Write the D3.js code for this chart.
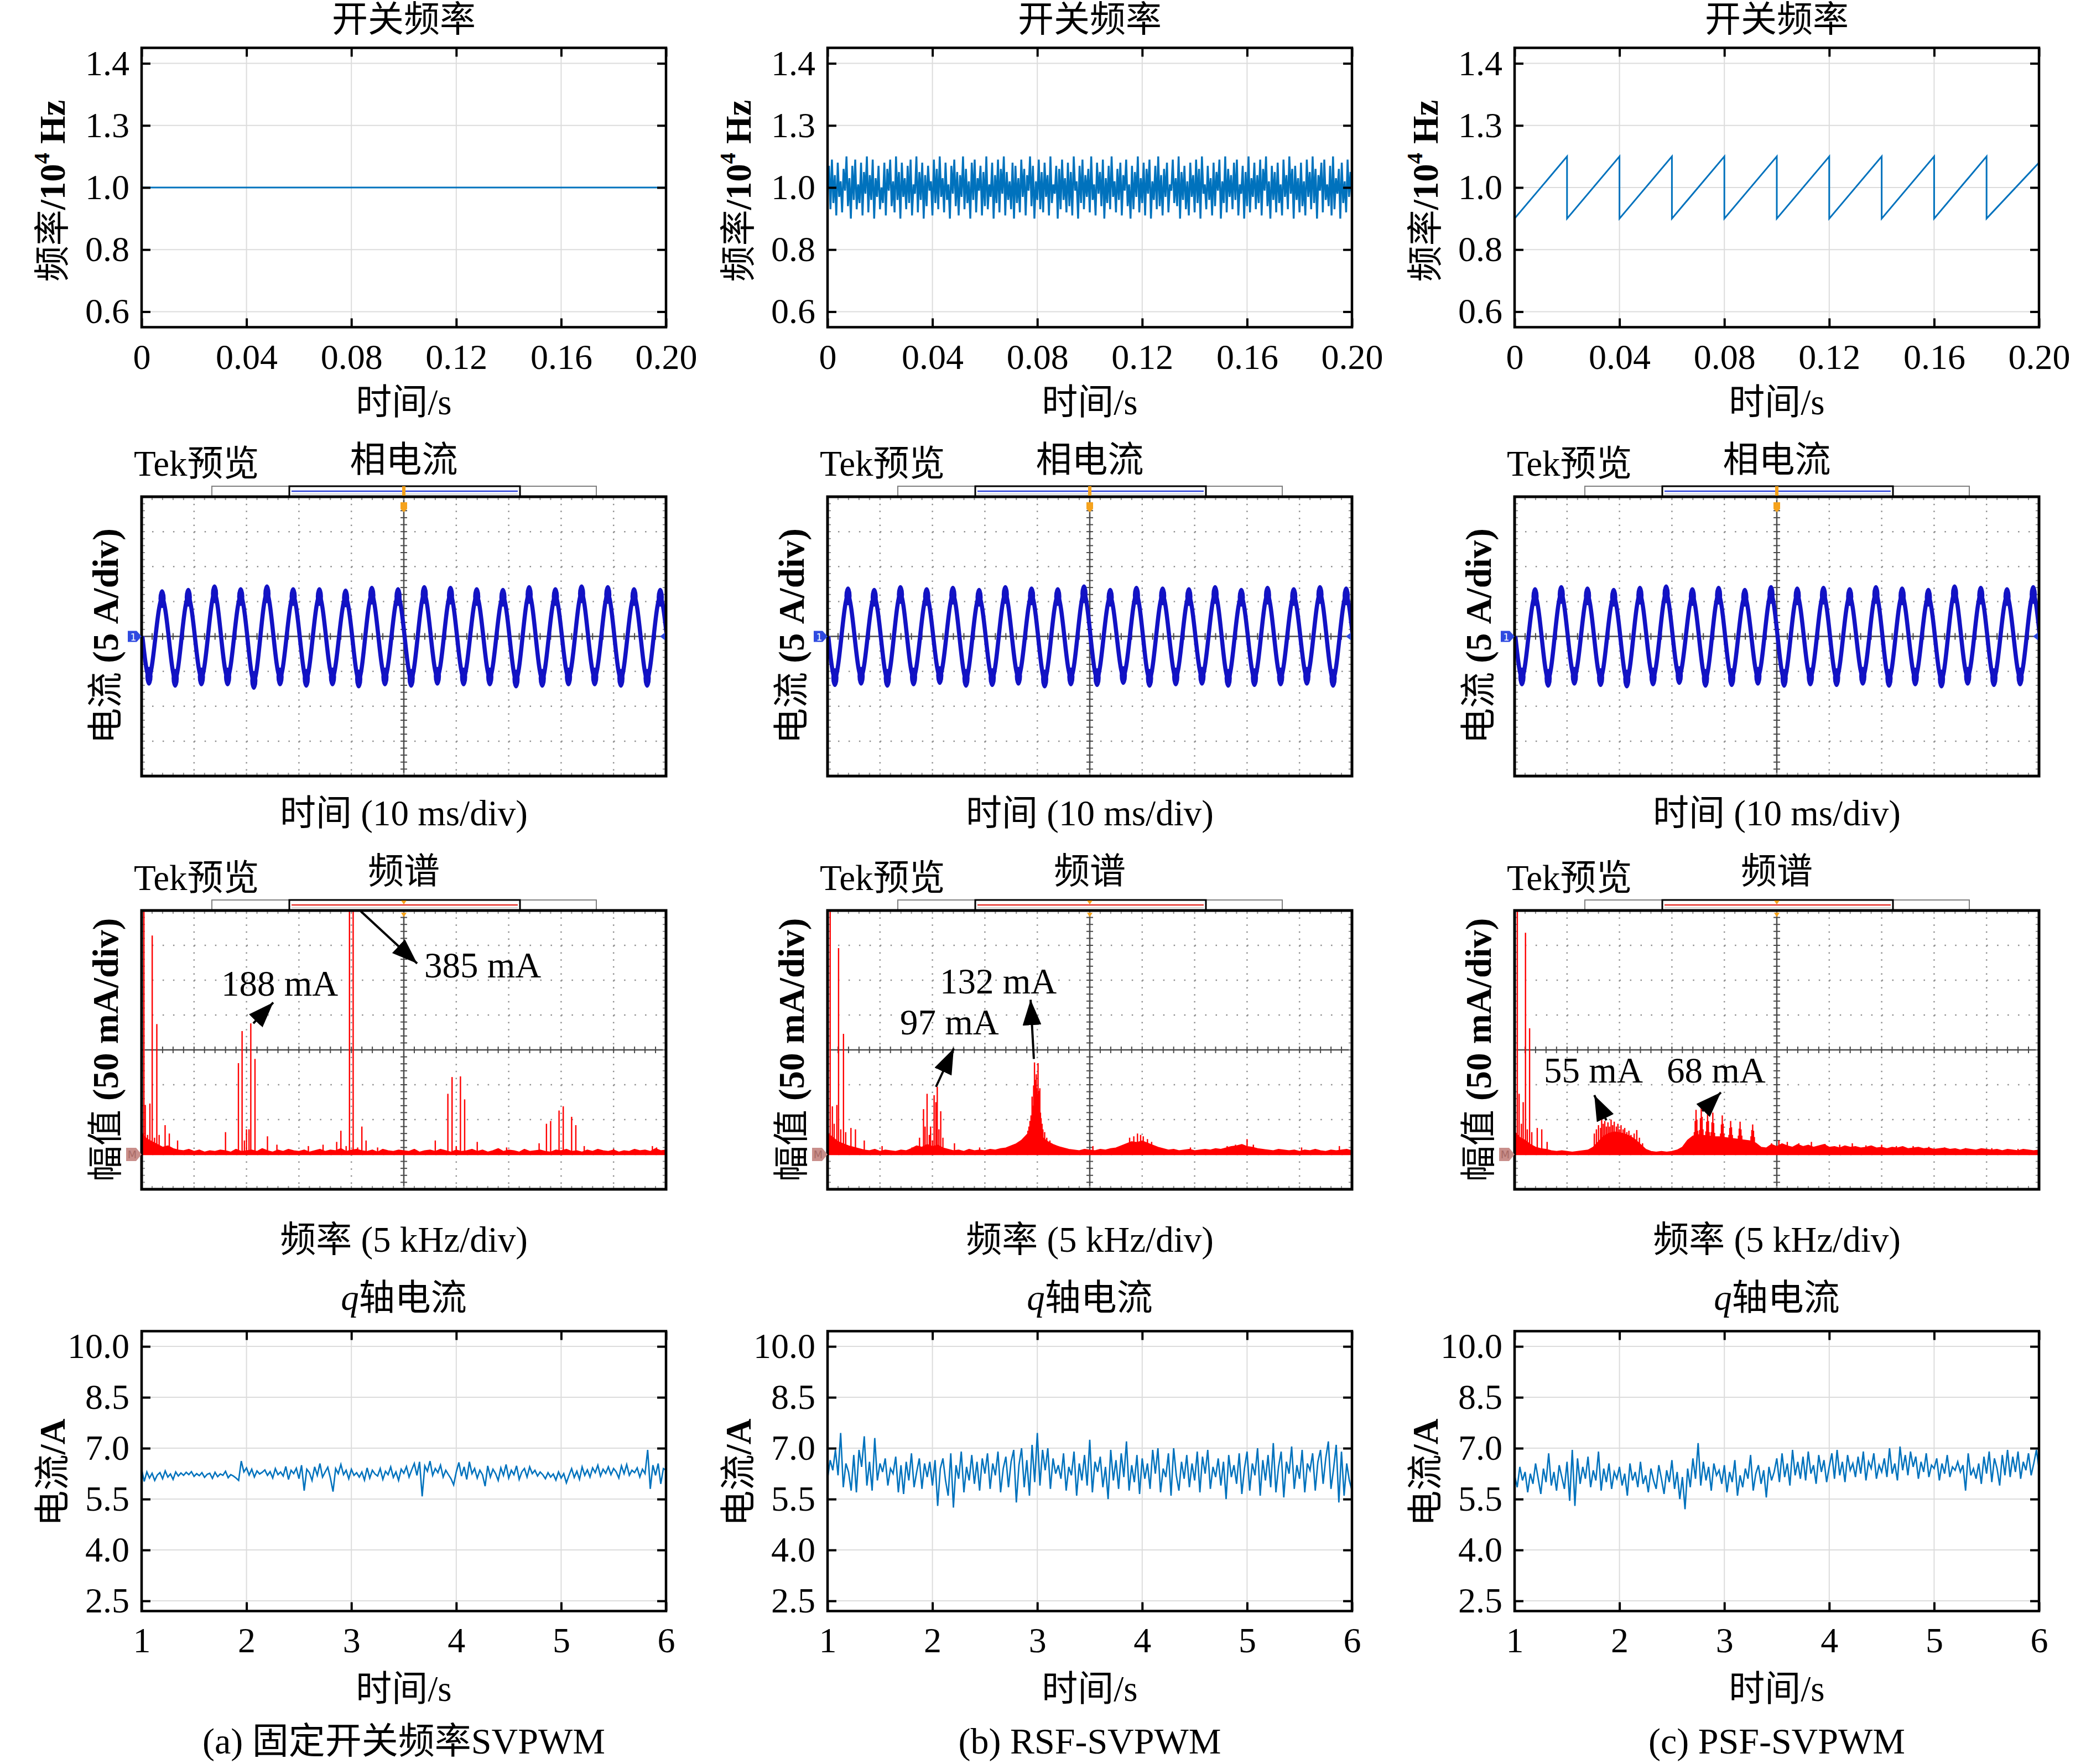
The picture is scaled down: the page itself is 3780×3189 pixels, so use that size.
<!DOCTYPE html>
<html>
<head>
<meta charset="utf-8">
<script src="https://cdn.jsdelivr.net/npm/d3@7"></script>
<style>body{margin:0;background:#fff}</style>
</head>
<body>
<svg id="fig" width="3780" height="3189"></svg>
<script>
// ---------------- data ----------------
var captions = ['(a) 固定开关频率SVPWM', '(b) RSF-SVPWM', '(c) PSF-SVPWM'];

// row 1: switching frequency (10^4 Hz) over 0..0.2 s
var freqTicks = [0.6, 0.8, 1.0, 1.2, 1.4];
var freqTickLabels = ['0.6', '0.8', '1.0', '1.3', '1.4'];
var freqTimeTicks = [0, 0.04, 0.08, 0.12, 0.16, 0.2];
var freqTimeLabels = ['0', '0.04', '0.08', '0.12', '0.16', '0.20'];
var fixedFreqT = [0, 0.2];
var fixedFreq = [1.0, 1.0];
var rsfFreq = [
  0.98, 1.07, 0.93, 1.09, 0.95, 1.04, 0.91, 1.08, 0.97, 1.02,
  0.92, 1.06, 0.99, 1.10, 0.94, 1.03, 0.90, 1.07, 0.96, 1.09,
  0.93, 1.01, 0.95, 1.08, 0.91, 1.05, 0.98, 1.10, 0.92, 1.04,
  0.96, 1.09, 0.90, 1.03, 0.97, 1.07, 0.93, 1.00, 0.95, 1.08,
  0.91, 1.06, 0.99, 1.09, 0.94, 1.02, 0.92, 1.10, 0.96, 1.05,
  0.90, 1.08, 0.97, 1.03, 0.93, 1.07, 0.95, 1.09, 0.91, 1.01,
  0.98, 1.10, 0.92, 1.05, 0.96, 1.08, 0.90, 1.04, 0.94, 1.07,
  0.99, 1.02, 0.91, 1.09, 0.95, 1.06, 0.93, 1.10, 0.97, 1.03,
  0.92, 1.08, 0.96, 1.01, 0.90, 1.07, 0.98, 1.09, 0.94, 1.05,
  0.91, 1.04, 0.97, 1.10, 0.93, 1.06, 0.95, 1.02, 0.90, 1.08,
  0.96, 1.09, 0.92, 1.03, 0.99, 1.07, 0.91, 1.05, 0.94, 1.10,
  0.93, 1.01, 0.97, 1.08, 0.90, 1.04, 0.95, 1.09, 0.92, 1.06,
  0.98, 1.10, 0.91, 1.05, 0.96, 1.02, 0.93, 1.08, 0.90, 1.07,
  0.95, 1.03, 0.92, 1.09, 0.97, 1.06, 0.91, 1.04, 0.99, 1.10,
  0.94, 1.07, 0.90, 1.02, 0.96, 1.09, 0.93, 1.05, 0.92, 1.08,
  0.97, 1.04, 0.91, 1.10, 0.95, 1.01, 0.98, 1.07, 0.90, 1.06,
  0.93, 1.09, 0.96, 1.03, 0.92, 1.08, 0.94, 1.05, 0.91, 1.10,
  0.99, 1.02, 0.90, 1.07, 0.95, 1.09, 0.93, 1.04, 0.97, 1.06,
  0.92, 1.10, 0.96, 1.01, 0.91, 1.08, 0.98, 1.05, 0.94, 1.09,
  0.90, 1.03, 0.95, 1.07, 0.93, 1.10, 0.97, 1.02, 0.92, 1.06,
  0.96, 1.08, 0.91, 1.04, 0.99, 1.09, 0.94, 1.01, 0.90, 1.07,
  0.93, 1.05, 0.97, 1.10, 0.92, 1.03, 0.95, 1.08, 0.91, 1.06,
  0.98, 1.09, 0.90, 1.02, 0.96, 1.07, 0.93, 1.10, 0.94, 1.04,
  0.91, 1.06, 0.97, 1.08, 0.92, 1.01, 0.99, 1.09, 0.95, 1.03,
  0.94, 1.10, 0.90, 1.05, 0.96, 1.07, 0.93, 1.02, 0.91, 1.08,
  0.97, 1.04, 0.92, 1.09, 0.95, 1.06, 0.90, 1.10, 0.98, 1.01,
  0.93, 1.07, 0.96, 1.03, 0.91, 1.08, 0.94, 1.05, 0.99, 1.09,
  0.90, 1.02, 0.95, 1.10, 0.92, 1.06, 0.97, 1.04, 0.93, 1.08,
  0.96, 1.09, 0.91, 1.01, 0.98, 1.07, 0.90, 1.05, 0.94, 1.10,
  0.92, 1.03, 0.97, 1.08, 0.93, 1.04, 0.95, 1.09, 0.91, 1.06,
  0.99, 1.10, 0.94, 1.02, 0.90, 1.07, 0.96, 1.05, 0.92, 1.08,
  0.95, 1.01, 0.91, 1.09, 0.97, 1.04, 0.93, 1.10, 0.98, 1.06,
  0.90, 1.07, 0.96, 1.03, 0.92, 1.08, 0.94, 1.02, 0.91, 1.09,
  0.97, 1.05, 0.93, 1.10, 0.95, 1.06, 0.90, 1.04, 0.99, 1.08,
  0.92, 1.09, 0.96, 1.01, 0.94, 1.07, 0.91, 1.10, 0.93, 1.03,
  0.98, 1.06, 0.90, 1.08, 0.95, 1.02, 0.92, 1.09, 0.97, 1.05,
  0.96
];
var psfFreqT = [0, 0.02, 0.02, 0.04, 0.04, 0.06, 0.06, 0.08, 0.08, 0.10,
  0.10, 0.12, 0.12, 0.14, 0.14, 0.16, 0.16, 0.18, 0.18, 0.20];
var psfFreq = [0.90, 1.10, 0.90, 1.10, 0.90, 1.10, 0.90, 1.10, 0.90, 1.10,
  0.90, 1.10, 0.90, 1.10, 0.90, 1.10, 0.90, 1.10, 0.90, 1.08];

// row 2: phase current, 5 A/div, 10 ms/div; per-cycle peaks and troughs (A)
var phasePeriodMs = 5;
var phaseStartMs = 0.15;
var phasePeaks = [
  [5.4, 5.6, 6.1, 5.7, 6.1, 5.7, 5.7, 5.5, 5.9, 5.7, 6.0, 5.9, 5.7, 5.6, 6.0, 5.7, 6.1, 6.0, 5.7, 5.6],
  [5.8, 5.6, 6.0, 5.7, 5.9, 5.6, 6.0, 5.8, 5.7, 6.1, 5.6, 5.9, 5.8, 5.7, 6.0, 5.6, 5.9, 5.7, 6.0, 5.8],
  [5.7, 6.0, 5.8, 5.6, 5.9, 6.1, 5.7, 5.9, 5.6, 6.0, 5.8, 5.9, 5.7, 6.0, 5.8, 5.6, 6.1, 5.9, 5.7, 6.0]
];
var phaseTroughs = [
  [-5.7, -6.0, -5.8, -5.8, -6.3, -5.8, -6.0, -5.8, -6.1, -5.8, -6.0, -5.7, -5.8, -5.8, -6.1, -6.0, -5.8, -5.8, -6.0, -6.0],
  [-5.9, -5.7, -6.0, -5.8, -5.6, -6.0, -5.9, -5.7, -6.1, -5.8, -5.9, -5.6, -6.0, -5.8, -5.7, -6.0, -5.9, -5.8, -5.7, -6.0],
  [-5.8, -6.0, -5.7, -5.9, -6.1, -5.8, -5.6, -6.0, -5.9, -5.7, -6.0, -5.8, -5.9, -5.7, -6.0, -5.8, -6.1, -5.7, -5.9, -5.8]
];

// row 3: spectrum, 50 mA/div, 5 kHz/div (0..50 kHz); noise floor every 0.5 kHz (mA)
var floorA = [30, 22, 18, 14, 10, 12, 8, 6, 5, 7, 4, 6, 3, 5, 4, 6, 5, 3, 7, 4,
  5, 6, 4, 8, 5, 3, 6, 4, 7, 5, 4, 6, 3, 5, 7, 4, 6, 5, 8, 4,
  6, 7, 5, 4, 6, 3, 7, 5, 4, 6, 5, 4, 7, 3, 5, 6, 4, 7, 5, 3,
  6, 4, 5, 7, 4, 6, 3, 5, 8, 4, 6, 5, 3, 7, 4, 5, 6, 4, 3, 6,
  5, 7, 4, 5, 3, 6, 4, 7, 5, 4, 6, 3, 5, 4, 7, 5, 6, 4, 8, 5, 6];
var floorB = [30, 24, 18, 15, 12, 10, 8, 6, 5, 7, 4, 6, 5, 4, 6, 5,
  8, 12, 10, 14, 11, 13, 9, 7, 5, 6, 4, 7, 5, 6, 5, 7, 6, 8, 9,
  12, 15, 20, 28, 34, 30, 24, 18, 14, 11, 9, 7, 6, 5, 7, 6, 5, 7, 6, 8, 9,
  12, 15, 18, 17, 19, 16, 13, 10, 8, 6, 7, 5, 6, 7, 5, 6, 7, 6, 8, 7,
  9, 11, 12, 14, 11, 10, 8, 7, 6, 5, 7, 6, 5, 6, 4, 6, 5, 7, 5, 4, 6, 5, 6, 7, 5];
var floorC = [32, 24, 20, 14, 10, 8, 7, 5, 4, 5, 4, 3, 4, 5, 6,
  10, 18, 26, 30, 32, 31, 29, 26, 21, 14, 7, 4, 3, 4, 3, 4, 6, 10,
  20, 26, 28, 27, 26, 25, 25, 24, 23, 22, 21, 20, 19, 16, 10,
  9, 14, 11, 15, 12, 10, 14, 11, 13, 10, 12, 14, 10,
  11, 9, 12, 10, 11, 9, 10, 12, 9, 10, 8, 10, 9, 11, 8, 9, 10, 8, 9, 7,
  8, 9, 7, 8, 6, 8, 7, 6, 8, 7, 6, 7, 5, 7, 6, 5, 7, 6, 5, 6];
// spectral lines [kHz, mA]
var spikesA = [[0.22, 450], [0.35, 71], [0.57, 28], [0.79, 73], [1.01, 314], [1.23, 24], [1.45, 187],
  [1.67, 28], [2.24, 42], [2.64, 30], [3.43, 20], [8.0, 32], [9.23, 131], [9.58, 177], [9.8, 20],
  [10.0, 36], [10.24, 36], [10.41, 188], [10.81, 137], [12.0, 26], [12.9, 14], [15.9, 12], [17.3, 14],
  [18.6, 18], [19.0, 34], [19.5, 12], [19.82, 385], [20.17, 385], [20.6, 10], [21.0, 40], [21.4, 20],
  [22.5, 10], [28.0, 20], [29.2, 87], [29.6, 111], [30.0, 12], [30.4, 112], [30.8, 79], [32.0, 18],
  [34.8, 10], [37.9, 16], [38.6, 44], [39.0, 48], [39.8, 63], [40.2, 69], [41.0, 54], [41.4, 42],
  [42.2, 12], [45.0, 8], [48.7, 12], [49.1, 10]];
var spikesB = [[0.25, 450], [0.46, 69], [0.63, 44], [0.89, 71], [1.05, 296], [1.26, 36], [1.52, 173],
  [1.73, 32], [2.23, 38], [2.66, 36], [3.5, 20], [5.2, 12], [8.05, 10], [8.77, 24], [9.15, 65], [9.3, 40],
  [9.49, 87], [9.7, 28], [9.82, 40], [10.0, 20], [10.16, 85], [10.33, 75], [10.46, 97], [10.62, 36],
  [10.79, 62], [11.0, 24], [12.1, 16], [14.5, 10], [18.47, 18], [18.8, 20], [19.0, 28], [19.1, 34],
  [19.2, 40], [19.3, 48], [19.4, 56], [19.5, 83], [19.58, 70], [19.65, 99], [19.73, 132], [19.82, 107],
  [19.9, 115], [19.95, 95], [20.0, 87], [20.07, 131], [20.12, 78], [20.15, 91], [20.24, 95], [20.3, 60],
  [20.36, 52], [20.45, 44], [20.53, 36], [20.7, 32], [20.9, 24], [21.2, 20], [21.6, 14], [22.0, 12],
  [25.3, 12], [28.8, 24], [29.2, 26], [29.55, 30], [29.85, 28], [30.1, 26], [30.5, 22], [30.9, 18],
  [34.6, 10], [38.1, 12], [38.9, 14], [40.0, 22], [40.6, 14], [45.2, 10], [48.8, 12]];
var spikesC = [[0.26, 450], [0.43, 87], [0.65, 44], [0.82, 75], [1.04, 318], [1.21, 36], [1.43, 181],
  [1.64, 32], [2.16, 38], [2.59, 36], [3.1, 18],
  [7.6, 30], [7.8, 36], [8.0, 42], [8.2, 38], [8.3, 51], [8.45, 44], [8.6, 48], [8.75, 40], [8.9, 46],
  [9.05, 40], [9.2, 50], [9.35, 42], [9.5, 47], [9.7, 40], [9.85, 44], [10.0, 36], [10.15, 42],
  [10.35, 36], [10.5, 38], [10.7, 32], [10.9, 34], [11.1, 28], [11.4, 30], [11.65, 35], [11.9, 24],
  [12.2, 16],
  [17.14, 32], [17.22, 48], [17.3, 64], [17.38, 50], [17.46, 34],
  [17.64, 35], [17.72, 52], [17.8, 69], [17.88, 54], [17.96, 36],
  [18.24, 33], [18.32, 47], [18.4, 61], [18.48, 48], [18.56, 32],
  [18.74, 32], [18.82, 46], [18.9, 60], [18.98, 45], [19.06, 31],
  [19.64, 30], [19.72, 43], [19.8, 56], [19.88, 44], [19.96, 30],
  [20.44, 28], [20.52, 38], [20.6, 48], [20.68, 39], [20.76, 28],
  [21.34, 27], [21.42, 37], [21.5, 47], [21.58, 36], [21.66, 27],
  [22.54, 26], [22.62, 35], [22.7, 43], [22.78, 34], [22.86, 25],
  [24.5, 16], [25.2, 20], [26.0, 18], [27.1, 16], [28.3, 18], [29.6, 15], [31.0, 14], [32.2, 16],
  [33.5, 13], [35.0, 14], [36.4, 12], [38.0, 12], [39.5, 11], [41.0, 10], [43.0, 9], [45.5, 9], [48.0, 8]];
var specFloors = [floorA, floorB, floorC];
var specSpikes = [spikesA, spikesB, spikesC];
// annotations: text [kHz, mA, label] and arrows [fromKHz, fromMA, toKHz, toMA]
var specNotes = [
  [[7.59, 228, '188 mA'], [26.95, 254, '385 mA']],
  [[10.71, 231, '132 mA'], [6.91, 172, '97 mA']],
  [[2.8, 103, '55 mA'], [14.5, 103, '68 mA']]
];
var specArrows = [
  [[10.65, 188, 12.55, 218], [20.89, 349, 26.27, 274]],
  [[10.34, 97, 12.03, 152], [19.67, 137, 19.36, 222]],
  [[8.75, 49, 7.6, 85], [17.9, 62, 19.67, 89]]
];

// row 4: q-axis current (A) over 1..6 s
var qTicks = [2.5, 4.0, 5.5, 7.0, 8.5, 10.0];
var qTickLabels = ['2.5', '4.0', '5.5', '7.0', '8.5', '10.0'];
var qTimeTicks = [1, 2, 3, 4, 5, 6];
var qTimeLabels = ['1', '2', '3', '4', '5', '6'];
var qCurrentA = [
  6.38, 6.02, 6.30, 6.12, 6.26, 6.05, 6.21, 6.28, 6.10, 6.33,
  6.15, 6.24, 6.08, 6.30, 6.18, 6.27, 6.20, 6.29, 6.22, 6.31,
  6.17, 6.25, 6.19, 6.28, 6.14, 6.23, 6.26, 6.11, 6.29, 6.16,
  6.24, 6.20, 6.32, 6.13, 6.22, 6.18, 6.12, 6.05, 6.62, 6.30,
  6.42, 6.21, 6.38, 6.15, 6.33, 6.24, 6.29, 6.36, 6.20, 6.31,
  6.12, 6.40, 6.22, 6.30, 6.18, 6.46, 6.08, 6.35, 6.25, 6.41,
  6.10, 6.50, 5.75, 6.38, 6.28, 6.05, 6.45, 6.20, 6.55, 6.15,
  6.30, 6.44, 6.12, 5.72, 6.40, 6.25, 6.52, 6.22, 6.35, 6.10,
  6.38, 6.20, 6.28, 6.15, 6.30, 6.06, 6.42, 6.12, 6.35, 6.24,
  6.18, 6.40, 6.08, 6.32, 6.22, 6.45, 6.14, 6.30, 6.05, 6.38,
  6.26, 6.46, 6.15, 6.36, 6.55, 6.20, 6.60, 5.58, 6.48, 6.32,
  6.62, 6.20, 6.40, 6.28, 6.50, 6.15, 6.35, 6.22, 6.10, 5.92,
  6.30, 6.58, 6.18, 6.45, 6.08, 6.60, 6.25, 6.40, 6.12, 6.35,
  6.22, 5.88, 6.48, 6.15, 6.38, 6.25, 6.05, 6.42, 6.20, 6.52,
  6.12, 6.35, 6.22, 6.48, 6.08, 6.30, 6.40, 6.15, 6.45, 6.25,
  6.35, 6.18, 6.30, 6.22, 6.10, 6.28, 6.15, 6.24, 6.06, 6.30,
  6.12, 6.25, 5.98, 6.20, 6.40, 6.14, 6.32, 6.08, 6.45, 6.20,
  6.36, 6.15, 6.42, 6.28, 6.50, 6.18, 6.38, 6.26, 6.45, 6.22,
  6.40, 6.30, 6.12, 6.48, 6.25, 6.52, 6.20, 6.35, 6.28, 6.42,
  6.15, 6.38, 6.25, 6.95, 5.80, 6.50, 6.20, 6.55, 5.95, 6.40,
  6.35
];
var qCurrentB = [
  6.10, 6.65, 6.35, 6.95, 6.20, 7.45, 5.85, 6.55, 6.30, 5.75,
  6.80, 5.70, 6.95, 6.45, 7.35, 5.90, 6.60, 5.75, 7.30, 6.05,
  6.55, 6.30, 6.70, 5.90, 6.40, 6.25, 6.75, 5.70, 6.50, 5.65,
  6.60, 6.05, 6.85, 5.85, 6.30, 6.70, 5.80, 6.55, 6.15, 6.60,
  5.90, 6.65, 5.30, 6.40, 6.70, 6.05, 5.60, 6.85, 5.25, 6.50,
  6.10, 6.90, 5.70, 6.45, 6.05, 6.80, 5.95, 6.60, 5.75, 6.70,
  6.25, 6.85, 5.80, 6.55, 6.20, 6.90, 5.70, 6.40, 6.75, 5.85,
  6.60, 6.95, 5.40, 6.50, 7.00, 5.85, 6.65, 5.60, 7.10, 6.00,
  7.45, 5.90, 6.95, 6.35, 7.00, 5.80, 6.70, 6.25, 6.50, 6.10,
  6.85, 5.75, 6.45, 6.20, 6.90, 5.60, 6.55, 6.05, 6.80, 5.90,
  7.25, 5.70, 6.60, 6.30, 6.75, 5.85, 6.45, 5.50, 6.95, 6.05,
  6.65, 5.80, 6.85, 6.15, 7.20, 5.75, 6.50, 6.00, 6.80, 5.65,
  6.70, 6.10, 6.55, 5.80, 6.95, 6.25, 7.00, 5.70, 6.40, 6.15,
  6.85, 5.60, 7.00, 6.20, 5.75, 6.60, 6.10, 6.80, 5.85, 6.55,
  6.05, 6.90, 5.70, 6.75, 6.25, 6.95, 5.80, 6.45, 6.15, 6.70,
  5.90, 6.60, 5.50, 6.80, 6.15, 6.50, 5.95, 6.85, 5.65, 6.40,
  6.90, 5.75, 6.55, 6.20, 7.00, 5.60, 6.65, 6.05, 6.80, 5.85,
  7.15, 5.70, 6.45, 6.90, 5.55, 6.60, 6.25, 7.05, 5.80, 6.50,
  6.10, 6.95, 5.70, 6.55, 6.35, 6.85, 5.75, 6.60, 6.95, 5.95,
  6.70, 7.20, 5.80, 6.40, 7.10, 5.40, 6.90, 5.60, 6.55, 6.05,
  5.75
];
var qCurrentC = [
  6.20, 5.85, 6.45, 6.05, 6.30, 5.70, 6.25, 5.95, 6.55, 6.10,
  5.65, 6.40, 6.00, 6.85, 5.90, 6.30, 5.75, 6.50, 6.15, 5.80,
  6.60, 5.45, 6.95, 5.30, 6.70, 5.95, 6.45, 6.10, 6.75, 5.85,
  6.35, 6.05, 6.90, 5.75, 6.40, 6.00, 6.55, 5.80, 6.30, 6.10,
  6.45, 5.90, 6.25, 5.60, 6.55, 6.05, 6.30, 5.85, 6.60, 5.95,
  6.20, 5.70, 6.40, 6.05, 5.80, 6.50, 6.10, 5.65, 6.35, 6.00,
  6.65, 5.80, 6.30, 5.50, 6.15, 5.20, 6.40, 5.85, 6.70, 6.10,
  7.15, 5.90, 6.60, 6.05, 6.45, 5.75, 6.55, 6.20, 6.35, 5.95,
  6.50, 5.70, 6.30, 6.00, 6.65, 5.60, 6.20, 5.85, 6.40, 6.10,
  6.80, 5.75, 6.25, 6.50, 5.95, 6.35, 5.55, 6.45, 6.05, 6.30,
  6.70, 6.00, 6.85, 6.15, 6.55, 5.90, 6.95, 6.20, 6.60, 6.10,
  6.75, 6.05, 6.90, 6.25, 6.50, 5.95, 6.80, 6.30, 6.65, 6.00,
  6.45, 6.85, 6.10, 6.95, 6.20, 6.60, 6.00, 6.80, 6.35, 6.55,
  6.15, 6.75, 6.25, 6.90, 6.05, 6.60, 6.40, 6.85, 6.10, 6.50,
  6.30, 6.70, 6.15, 7.00, 6.25, 6.55, 6.05, 7.05, 6.35, 6.80,
  6.20, 6.90, 6.45, 6.75, 6.10, 6.60, 6.30, 6.85, 6.15, 6.50,
  6.40, 6.70, 6.05, 6.55, 6.25, 6.80, 6.15, 6.45, 6.35, 6.60,
  6.30, 6.50, 5.75, 6.85, 6.20, 6.40, 6.10, 6.55, 5.95, 6.75,
  6.25, 6.90, 6.00, 6.70, 6.40, 5.90, 6.80, 6.20, 6.95, 6.15,
  6.75, 6.30, 6.90, 6.10, 6.60, 6.35, 6.85, 6.20, 6.55, 6.95,
  6.40
];
var qCurrents = [qCurrentA, qCurrentB, qCurrentC];

// ---------------- layout ----------------
var FONT = "'Liberation Serif','Times New Roman','Noto Sans CJK SC',serif";
var colLeft = [256, 1496, 2738];
var BOX_W = 948;
var FREQ_TOP = 86.5, FREQ_BOT = 591.5;
var PH_TOP = 898, PH_BOT = 1403;
var SP_TOP = 1646, SP_BOT = 2150;
var Q_TOP = 2406.5, Q_BOT = 2912.5;
var MATLAB_BLUE = '#0072bd';
var SCOPE_BLUE = '#1212c4';

var svg = d3.select('#fig');
svg.append('rect').attr('width', 3780).attr('height', 3189).attr('fill', '#fff');
var defs = svg.append('defs');
defs.append('marker')
  .attr('id', 'arrowHead')
  .attr('viewBox', '0 0 46 34')
  .attr('refX', 46).attr('refY', 17)
  .attr('markerUnits', 'userSpaceOnUse')
  .attr('markerWidth', 46).attr('markerHeight', 34)
  .attr('preserveAspectRatio', 'none')
  .attr('orient', 'auto')
  .append('path').attr('d', 'M0,0 L46,17 L0,34 Z').attr('fill', '#000');

function clipRect(id, x, y, w, h) {
  defs.append('clipPath').attr('id', id)
    .append('rect').attr('x', x).attr('y', y).attr('width', w).attr('height', h);
  return 'url(#' + id + ')';
}

function label(g, x, y, parts, size, anchor) {
  var t = g.append('text')
    .attr('x', x).attr('y', y)
    .attr('text-anchor', anchor || 'middle')
    .attr('font-family', FONT)
    .attr('font-size', size || 65)
    .attr('fill', '#000');
  if (typeof parts === 'string') parts = [{ s: parts }];
  parts.forEach(function (p) {
    t.append('tspan')
      .text(p.s)
      .attr('font-weight', p.b ? 'bold' : null)
      .attr('font-style', p.i ? 'italic' : null)
      .attr('font-size', p.fs || null)
      .attr('dy', p.dy || null);
  });
  return t;
}

function yLabel(g, x, y, parts) {
  label(g, 0, 0, parts, 65).attr('transform', 'translate(' + x + ',' + y + ') rotate(-90)');
}

function axisStyle(sel) {
  sel.attr('font-family', FONT).attr('font-size', 64);
  sel.select('.domain').remove();
  sel.selectAll('.tick line').attr('stroke', '#000').attr('stroke-width', 4);
  sel.selectAll('.tick text').attr('fill', '#000');
}

// MATLAB style axes: light grid below, boxed frame with inward ticks on 4 sides
function matlabGrid(g, x, y, xt, yt) {
  var xr = x.range(), yr = y.range();
  g.append('g').selectAll('line').data(xt).enter().append('line')
    .attr('x1', function (d) { return x(d); }).attr('x2', function (d) { return x(d); })
    .attr('y1', yr[1]).attr('y2', yr[0])
    .attr('stroke', '#dcdcdc').attr('stroke-width', 2);
  g.append('g').selectAll('line').data(yt).enter().append('line')
    .attr('y1', function (d) { return y(d); }).attr('y2', function (d) { return y(d); })
    .attr('x1', xr[0]).attr('x2', xr[1])
    .attr('stroke', '#dcdcdc').attr('stroke-width', 2);
}

function matlabFrame(g, x, y, xt, xl, yt, yl, pad) {
  var xr = x.range(), yr = y.range();
  var none = function () { return ''; };
  g.append('g').attr('transform', 'translate(0,' + yr[0] + ')')
    .call(d3.axisBottom(x).tickValues(xt).tickFormat(function (d, i) { return xl[i]; })
      .tickSizeInner(-16).tickSizeOuter(0).tickPadding(pad))
    .call(axisStyle);
  g.append('g').attr('transform', 'translate(0,' + yr[1] + ')')
    .call(d3.axisTop(x).tickValues(xt).tickFormat(none).tickSizeInner(-16).tickSizeOuter(0))
    .call(axisStyle);
  g.append('g').attr('transform', 'translate(' + xr[0] + ',0)')
    .call(d3.axisLeft(y).tickValues(yt).tickFormat(function (d, i) { return yl[i]; })
      .tickSizeInner(-16).tickSizeOuter(0).tickPadding(22))
    .call(axisStyle);
  g.append('g').attr('transform', 'translate(' + xr[1] + ',0)')
    .call(d3.axisRight(y).tickValues(yt).tickFormat(none).tickSizeInner(-16).tickSizeOuter(0))
    .call(axisStyle);
  g.append('rect')
    .attr('x', xr[0]).attr('y', yr[1])
    .attr('width', xr[1] - xr[0]).attr('height', yr[0] - yr[1])
    .attr('fill', 'none').attr('stroke', '#000').attr('stroke-width', 4.5);
}

// oscilloscope screen: dotted graticule, centre cross, top record bar
function scopeFrame(g, left, top, bottom, barColor) {
  var w = BOX_W, h = bottom - top, dx = w / 10, dy = h / 8;
  var cx = left + w / 2, cy = top + h / 2;
  var grid = g.append('g').attr('stroke', '#8f8f8f').attr('stroke-width', 2.5);
  grid.selectAll('.gv').data(d3.range(1, 10).filter(function (i) { return i !== 5; })).enter().append('line')
    .attr('x1', function (i) { return left + i * dx; }).attr('x2', function (i) { return left + i * dx; })
    .attr('y1', top).attr('y2', bottom)
    .attr('stroke-dasharray', '2.5 ' + (dy / 5 - 2.5));
  grid.selectAll('.gh').data(d3.range(1, 8).filter(function (j) { return j !== 4; })).enter().append('line')
    .attr('y1', function (j) { return top + j * dy; }).attr('y2', function (j) { return top + j * dy; })
    .attr('x1', left).attr('x2', left + w)
    .attr('stroke-dasharray', '2.5 ' + (dx / 5 - 2.5));

  var cross = g.append('g').attr('stroke', '#4a4a4a').attr('stroke-width', 2.5);
  cross.append('line').attr('x1', left).attr('x2', left + w).attr('y1', cy).attr('y2', cy);
  cross.append('line').attr('x1', cx).attr('x2', cx).attr('y1', top).attr('y2', bottom);
  var mx = d3.range(1, 50), my = d3.range(1, 40);
  cross.selectAll('.mx').data(mx).enter().append('line')
    .attr('x1', function (i) { return left + i * dx / 5; }).attr('x2', function (i) { return left + i * dx / 5; })
    .attr('y1', cy - 6).attr('y2', cy + 6).attr('stroke-width', 2);
  cross.selectAll('.my').data(my).enter().append('line')
    .attr('y1', function (j) { return top + j * dy / 5; }).attr('y2', function (j) { return top + j * dy / 5; })
    .attr('x1', cx - 6).attr('x2', cx + 6).attr('stroke-width', 2);
  var edge = g.append('g').attr('stroke', '#8f8f8f').attr('stroke-width', 2);
  edge.selectAll('.et').data(mx).enter().append('line')
    .attr('x1', function (i) { return left + i * dx / 5; }).attr('x2', function (i) { return left + i * dx / 5; })
    .attr('y1', top).attr('y2', top + 6);
  edge.selectAll('.eb').data(mx).enter().append('line')
    .attr('x1', function (i) { return left + i * dx / 5; }).attr('x2', function (i) { return left + i * dx / 5; })
    .attr('y1', bottom - 6).attr('y2', bottom);
  edge.selectAll('.el').data(my).enter().append('line')
    .attr('y1', function (j) { return top + j * dy / 5; }).attr('y2', function (j) { return top + j * dy / 5; })
    .attr('x1', left).attr('x2', left + 6);
  edge.selectAll('.er').data(my).enter().append('line')
    .attr('y1', function (j) { return top + j * dy / 5; }).attr('y2', function (j) { return top + j * dy / 5; })
    .attr('x1', left + w - 6).attr('x2', left + w);

  // record-length bar above the screen
  g.append('rect').attr('x', left + 127).attr('y', top - 19).attr('width', 695).attr('height', 19)
    .attr('fill', '#fff').attr('stroke', '#808080').attr('stroke-width', 2);
  g.append('rect').attr('x', left + 267).attr('y', top - 19).attr('width', 417).attr('height', 19)
    .attr('fill', '#fff').attr('stroke', '#000').attr('stroke-width', 3);
  g.append('line').attr('x1', left + 271).attr('x2', left + 680)
    .attr('y1', top - 10).attr('y2', top - 10)
    .attr('stroke', barColor).attr('stroke-width', 2.5);
  g.append('line').attr('x1', left + 271).attr('x2', left + 680)
    .attr('y1', top - 5).attr('y2', top - 5)
    .attr('stroke', '#c8c8c8').attr('stroke-width', 1.5);
}

function screenBorder(g, left, top, bottom) {
  g.append('rect').attr('x', left).attr('y', top).attr('width', BOX_W).attr('height', bottom - top)
    .attr('fill', 'none').attr('stroke', '#000').attr('stroke-width', 5);
}

// ---------------- row 1: switching frequency ----------------
function drawFreqPanel(k) {
  var left = colLeft[k];
  var g = svg.append('g');
  var x = d3.scaleLinear().domain([0, 0.2]).range([left, left + BOX_W]);
  var y = d3.scaleLinear().domain([0.55, 1.45]).range([FREQ_BOT, FREQ_TOP]);
  matlabGrid(g, x, y, freqTimeTicks, freqTicks);

  var pts;
  if (k === 0) pts = fixedFreqT.map(function (t, i) { return [t, fixedFreq[i]]; });
  else if (k === 1) pts = rsfFreq.map(function (f, i) { return [i * 0.2 / (rsfFreq.length - 1), f]; });
  else pts = psfFreqT.map(function (t, i) { return [t, psfFreq[i]]; });
  var line = d3.line().x(function (d) { return x(d[0]); }).y(function (d) { return y(d[1]); });
  g.append('path')
    .attr('d', line(pts))
    .attr('clip-path', clipRect('cf' + k, left, FREQ_TOP, BOX_W, FREQ_BOT - FREQ_TOP))
    .attr('fill', 'none')
    .attr('stroke', MATLAB_BLUE)
    .attr('stroke-width', k === 1 ? 3.4 : 3)
    .attr('stroke-linejoin', 'miter');

  matlabFrame(g, x, y, freqTimeTicks, freqTimeLabels, freqTicks, freqTickLabels, 30);
  label(g, left + BOX_W / 2, 57, '开关频率');
  label(g, left + BOX_W / 2, 749, '时间/s');
  yLabel(g, left - 139, 345, [
    { s: '频率' }, { s: '/10', b: true }, { s: '4', b: true, fs: 40, dy: -28 }, { s: ' Hz', b: true, dy: 28 }
  ]);
}

// ---------------- row 2: phase current scope ----------------
function drawPhasePanel(k) {
  var left = colLeft[k];
  var g = svg.append('g');
  var x = d3.scaleLinear().domain([0, 100]).range([left, left + BOX_W]);
  var y = d3.scaleLinear().domain([-20, 20]).range([PH_BOT, PH_TOP]);
  scopeFrame(g, left, PH_TOP, PH_BOT, '#2a3fd6');

  var pts = [], tips = [];
  phaseTroughs[k].forEach(function (tr, c) {
    var t0 = phaseStartMs + c * phasePeriodMs;
    pts.push([t0, 0]);
    pts.push([t0 + phasePeriodMs / 4, tr]);
    pts.push([t0 + phasePeriodMs / 2, 0]);
    pts.push([t0 + phasePeriodMs * 3 / 4, phasePeaks[k][c]]);
    tips.push(pts[pts.length - 3], pts[pts.length - 1]);
  });
  pts.push([phaseStartMs + phaseTroughs[k].length * phasePeriodMs, 0]);
  var line = d3.line().curve(d3.curveNatural)
    .x(function (d) { return x(d[0]); }).y(function (d) { return y(d[1]); });
  var trace = g.append('g').attr('clip-path', clipRect('cp' + k, left, PH_TOP, BOX_W, PH_BOT - PH_TOP));
  trace.append('path')
    .attr('d', line(pts))
    .attr('fill', 'none')
    .attr('stroke', SCOPE_BLUE)
    .attr('stroke-width', 7.5);
  // ripple blobs sitting on every crest and trough
  trace.selectAll('ellipse').data(tips).enter().append('ellipse')
    .attr('cx', function (d) { return x(d[0]); })
    .attr('cy', function (d) { return y(d[1]); })
    .attr('rx', 6.5).attr('ry', 17)
    .attr('fill', SCOPE_BLUE);

  screenBorder(g, left, PH_TOP, PH_BOT);
  var cy = y(0), cx = x(50);
  // channel 1 ground marker and trigger markers
  g.append('path')
    .attr('d', 'M' + (left - 25) + ',' + (cy - 10) + 'h16l9,10l-9,10h-16z')
    .attr('fill', '#2f4ae0');
  g.append('text').attr('x', left - 15).attr('y', cy + 7).attr('text-anchor', 'middle')
    .attr('font-family', 'DejaVu Sans').attr('font-size', 17).attr('fill', '#fff').text('1');
  g.append('path')
    .attr('d', 'M' + (left + BOX_W - 2) + ',' + (cy - 7) + 'l-9,7l9,7z')
    .attr('fill', '#2f4ae0');
  g.append('rect').attr('x', cx - 3).attr('y', PH_TOP - 19).attr('width', 6).attr('height', 17).attr('fill', '#f5a21c');
  g.append('path')
    .attr('d', 'M' + (cx - 6) + ',' + (PH_TOP + 10) + 'h12v12l-6,6l-6,-6z')
    .attr('fill', '#f5a21c');

  label(g, left - 14, 860, 'Tek预览', 65, 'start');
  label(g, left + BOX_W / 2, 853, '相电流');
  label(g, left + BOX_W / 2, 1492, '时间 (10 ms/div)');
  yLabel(g, left - 43, 1150, [{ s: '电流 ' }, { s: '(5 A/div)', b: true }]);
}

// ---------------- row 3: current spectrum ----------------
function drawSpecPanel(k) {
  var left = colLeft[k];
  var g = svg.append('g');
  var x = d3.scaleLinear().domain([0, 50]).range([left, left + BOX_W]);
  var y = d3.scaleLinear().domain([-50, 350]).range([SP_BOT, SP_TOP]);
  scopeFrame(g, left, SP_TOP, SP_BOT, '#e8322a');

  var floor = specFloors[k];
  var step = 50 / (floor.length - 1);
  var clip = clipRect('cs' + k, left, SP_TOP, BOX_W, SP_BOT - SP_TOP);
  var trace = g.append('g').attr('clip-path', clip);
  var area = d3.area()
    .x(function (d, i) { return x(i * step); })
    .y0(y(0))
    .y1(function (d) { return y(d); });
  trace.append('path')
    .attr('d', area(floor))
    .attr('fill', '#f00').attr('stroke', '#f00').attr('stroke-width', 2.4)
    .attr('stroke-linejoin', 'round');
  trace.selectAll('line').data(specSpikes[k]).enter().append('line')
    .attr('x1', function (d) { return x(d[0]); }).attr('x2', function (d) { return x(d[0]); })
    .attr('y1', y(0))
    .attr('y2', function (d) { return y(d[1]); })
    .attr('stroke', '#f00').attr('stroke-width', 2.4);

  screenBorder(g, left, SP_TOP, SP_BOT);
  var cx = x(25), zy = y(0);
  g.append('path')
    .attr('d', 'M' + (left - 28) + ',' + (zy - 12) + 'h18l10,12l-10,12h-18z')
    .attr('fill', '#c98f8b');
  g.append('text').attr('x', left - 17).attr('y', zy + 7).attr('text-anchor', 'middle')
    .attr('font-family', 'DejaVu Sans').attr('font-size', 19).attr('fill', '#a86a66').text('M');
  g.append('path').attr('d', 'M' + (cx - 5) + ',' + (SP_TOP - 18) + 'h10l-5,7z').attr('fill', '#f5a21c');
  g.append('path').attr('d', 'M' + (cx - 5) + ',' + (SP_TOP + 4) + 'h10l-5,8z').attr('fill', '#f5a21c');

  g.append('g').selectAll('line').data(specArrows[k]).enter().append('line')
    .attr('x1', function (d) { return x(d[0]); }).attr('y1', function (d) { return y(d[1]); })
    .attr('x2', function (d) { return x(d[2]); }).attr('y2', function (d) { return y(d[3]); })
    .attr('stroke', '#000').attr('stroke-width', 4)
    .attr('marker-end', 'url(#arrowHead)');
  specNotes[k].forEach(function (n) { label(g, x(n[0]), y(n[1]), n[2], 65, 'start'); });

  label(g, left - 14, 1609, 'Tek预览', 65, 'start');
  label(g, left + BOX_W / 2, 1597, '频谱');
  label(g, left + BOX_W / 2, 2263, '频率 (5 kHz/div)');
  yLabel(g, left - 43, 1898, [{ s: '幅值 ' }, { s: '(50 mA/div)', b: true }]);
}

// ---------------- row 4: q-axis current ----------------
function drawQPanel(k) {
  var left = colLeft[k];
  var g = svg.append('g');
  var x = d3.scaleLinear().domain([1, 6]).range([left, left + BOX_W]);
  var y = d3.scaleLinear().domain([2.2, 10.45]).range([Q_BOT, Q_TOP]);
  matlabGrid(g, x, y, qTimeTicks, qTicks);
  var vals = qCurrents[k];
  var line = d3.line()
    .x(function (d, i) { return x(1 + i * 5 / (vals.length - 1)); })
    .y(function (d) { return y(d); });
  g.append('path')
    .attr('d', line(vals))
    .attr('clip-path', clipRect('cq' + k, left, Q_TOP, BOX_W, Q_BOT - Q_TOP))
    .attr('fill', 'none').attr('stroke', MATLAB_BLUE).attr('stroke-width', 2.6);
  matlabFrame(g, x, y, qTimeTicks, qTimeLabels, qTicks, qTickLabels, 29);

  label(g, left + BOX_W / 2, 2368, [{ s: 'q', i: true }, { s: '轴电流' }]);
  label(g, left + BOX_W / 2, 3075, '时间/s');
  yLabel(g, left - 139, 2662, [{ s: '电流' }, { s: '/A', b: true }]);
  label(g, left + BOX_W / 2, 3170, captions[k], 66);
}

[0, 1, 2].forEach(function (k) {
  drawFreqPanel(k);
  drawPhasePanel(k);
  drawSpecPanel(k);
  drawQPanel(k);
});
</script>
</body>
</html>
